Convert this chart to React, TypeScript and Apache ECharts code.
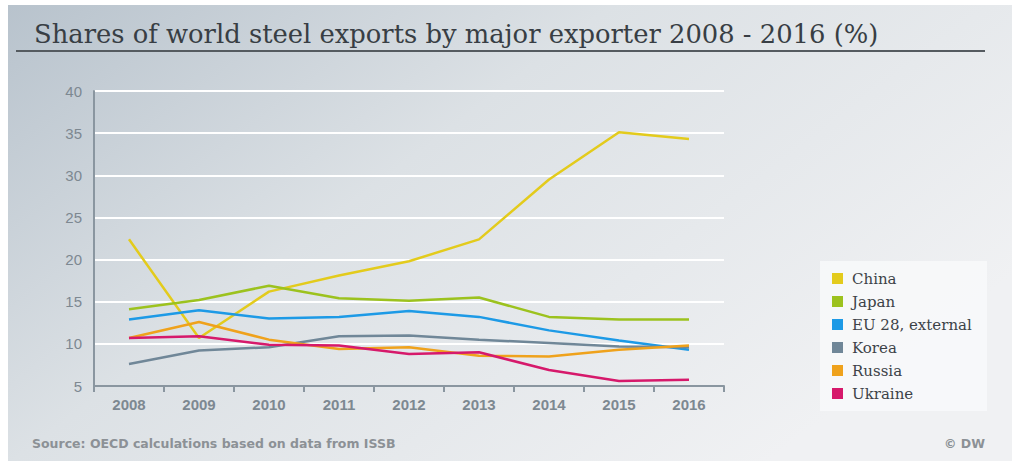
import React, { useEffect, useRef } from "react";
import * as echarts from "echarts";

const years = ["2008", "2009", "2010", "2011", "2012", "2013", "2014", "2015", "2016"];
const china = [22.4, 10.7, 16.2, 18.1, 19.8, 22.4, 29.5, 35.1, 34.3];
const japan = [14.1, 15.2, 16.9, 15.4, 15.1, 15.5, 13.2, 12.9, 12.9];
const eu28 = [12.9, 14.0, 13.0, 13.2, 13.9, 13.2, 11.6, 10.4, 9.3];
const korea = [7.6, 9.2, 9.6, 10.9, 11.0, 10.5, 10.1, 9.7, 9.6];
const russia = [10.7, 12.6, 10.5, 9.4, 9.6, 8.6, 8.5, 9.3, 9.8];
const ukraine = [10.7, 10.9, 9.9, 9.8, 8.8, 9.0, 6.9, 5.6, 5.75];

const seriesNames = ["China", "Japan", "EU 28, external", "Korea", "Russia", "Ukraine"];
const seriesData = [china, japan, eu28, korea, russia, ukraine];
const colors = ["#e3cb1c", "#9cc21e", "#1d9ae6", "#708798", "#efa21c", "#d6196b"];

const title = "Shares of world steel exports by major exporter 2008 - 2016 (%)";
const source = "Source: OECD calculations based on data from ISSB";
const credit = "© DW";

export default function App() {
  const ref = useRef<HTMLDivElement>(null);
  useEffect(() => {
    if (!ref.current) return;
    const chart = echarts.init(ref.current, undefined, { renderer: "svg" });
    chart.setOption({
      animation: false,
      backgroundColor: new echarts.graphic.LinearGradient(0, 0, 1, 0.6, [
        { offset: 0, color: "#b7c2cc" },
        { offset: 0.45, color: "#dce1e5" },
        { offset: 1, color: "#f0f1f3" },
      ]),
      color: colors,
      title: {
        text: title,
        left: 29,
        top: 16,
        textStyle: {
          fontFamily: "DejaVu Serif",
          fontWeight: "normal",
          fontSize: 25.8,
          color: "#383e44",
        },
      },
      graphic: [
        {
          type: "rect",
          shape: { x: 0, y: 0, width: 1012, height: 5 },
          style: { fill: "#ffffff" },
        },
        {
          type: "rect",
          shape: { x: 0, y: 0, width: 8, height: 461 },
          style: { fill: "#ffffff" },
        },
        {
          type: "line",
          shape: { x1: 16, y1: 51, x2: 985, y2: 51 },
          style: { stroke: "#555b60", lineWidth: 2 },
        },
        {
          type: "rect",
          shape: { x: 820, y: 261, width: 167, height: 150 },
          style: { fill: "rgba(248,249,250,0.85)" },
        },
        {
          type: "text",
          left: 32,
          top: 437,
          style: {
            text: source,
            fontFamily: "DejaVu Sans",
            fontSize: 12.5,
            fontWeight: "bold",
            fill: "#8c9196",
          },
        },
        {
          type: "text",
          right: 27,
          top: 437,
          style: {
            text: credit,
            fontFamily: "DejaVu Sans",
            fontSize: 12.5,
            fontWeight: "bold",
            fill: "#8c9196",
          },
        },
      ],
      legend: {
        orient: "vertical",
        left: 827,
        top: 266,
        itemWidth: 11,
        itemHeight: 11,
        itemGap: 8,
        icon: "rect",
        data: seriesNames,
        textStyle: {
          fontFamily: "DejaVu Serif",
          fontSize: 15,
          color: "#3c4247",
          padding: [0, 0, 0, 4],
        },
      },
      grid: { left: 94, right: 288, top: 91, bottom: 75 },
      xAxis: {
        type: "category",
        data: years,
        boundaryGap: true,
        axisLine: { lineStyle: { color: "#8a96a0", width: 2 } },
        axisTick: { show: true, length: 6, lineStyle: { color: "#8a96a0", width: 2 } },
        axisLabel: {
          fontFamily: "Liberation Sans",
          fontSize: 15,
          fontWeight: "bold",
          color: "#7d8891",
          margin: 11,
        },
      },
      yAxis: {
        type: "value",
        min: 5,
        max: 40,
        interval: 5,
        axisLine: { show: true, lineStyle: { color: "#8a96a0", width: 2 } },
        axisTick: { show: false },
        splitLine: { lineStyle: { color: "#ffffff", width: 2 } },
        axisLabel: {
          fontFamily: "Liberation Sans",
          fontSize: 15,
          color: "#7d8891",
          margin: 12,
        },
      },
      series: seriesNames.map((name, i) => ({
        name,
        type: "line",
        data: seriesData[i],
        showSymbol: false,
        symbol: "none",
        lineStyle: { width: 2.5, color: colors[i] },
        itemStyle: { color: colors[i] },
      })),
    });
    return () => chart.dispose();
  }, []);
  return (
    <div
      ref={ref}
      style={{ position: "fixed", left: 0, top: 0, width: 1012, height: 461 }}
    />
  );
}
